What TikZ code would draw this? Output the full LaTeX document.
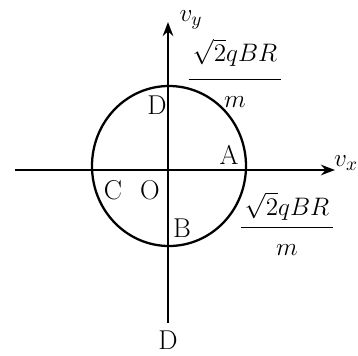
\documentclass[tikz,border=0pt]{standalone}
\usepackage{amsmath}
\usetikzlibrary{arrows.meta}
\begin{document}
\begin{tikzpicture}[x=0.02cm, y=-0.02cm, >={Stealth[length=8pt,width=6pt]},
  font=\fontsize{15.5}{18}\selectfont, line width=1.3pt,
  lbl/.style={inner sep=1pt}, frac/.style={inner sep=0pt}]
  \useasboundingbox (0,0) rectangle (358,355);
  % axes
  \coordinate (xl) at (15,170);
  \coordinate (xr) at (335,170);
  \coordinate (yb) at (168,323);
  \coordinate (yt) at (168,22);
  \draw[->] (xl) -- (xr);
  \draw[->] (yb) -- (yt);
  \node[lbl] (vx) at (346,163) {$v_x$};
  \node[lbl] (vy) at (191,20) {$v_y$};
  % velocity circle
  \coordinate (c) at (169,166);
  \draw (c) ellipse [x radius=77, y radius=80];
  % points
  \node[lbl] (D1) at (157,105) {D};
  \node[lbl] (A) at (229,155) {A};
  \node[lbl] (C) at (113,190) {C};
  \node[lbl] (O) at (150,190) {O};
  \node[lbl] (B) at (182,228) {B};
  \node[lbl] (D2) at (168,340) {D};
  % radius labels
  \node[frac] (r1) at (235,73) {$\dfrac{\,\sqrt{2}qBR\,\rule[-8pt]{0pt}{8pt}}{\rule{0pt}{14pt}m}$};
  \node[frac] (r2) at (287,224) {$\dfrac{\,\sqrt{2}qBR\,\rule[-5pt]{0pt}{5pt}}{\rule{0pt}{14pt}m}$};
\end{tikzpicture}
\end{document}
